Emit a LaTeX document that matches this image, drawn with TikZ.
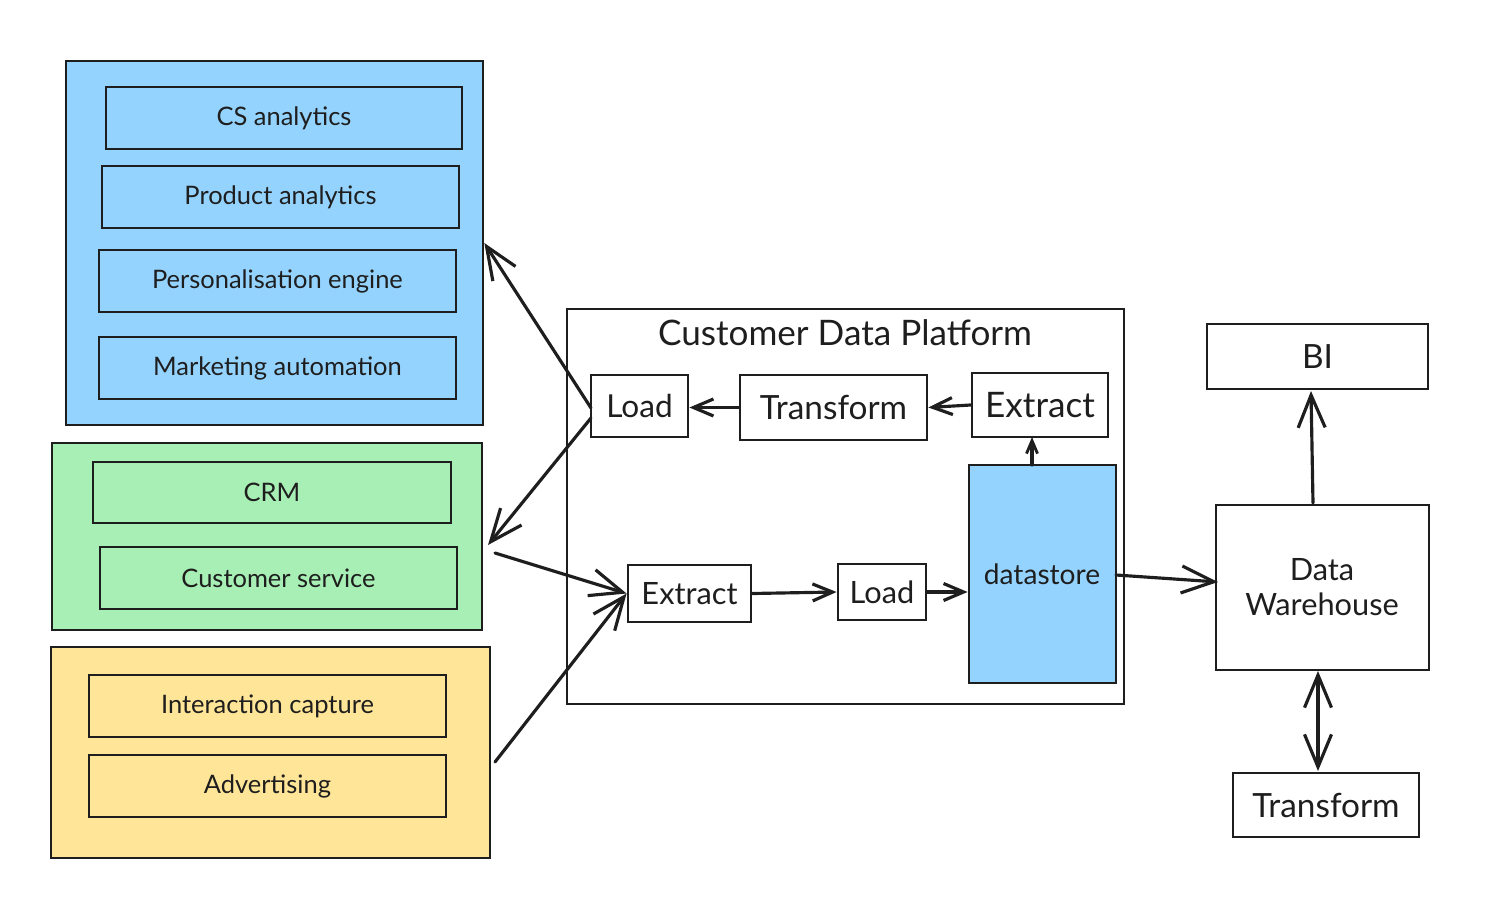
\documentclass[tikz,border=0pt]{standalone}
\usepackage{fontspec}
\setmainfont{Lato}
\usetikzlibrary{arrows.meta,fit,calc}
\definecolor{gblue}{HTML}{95D3FF}
\definecolor{ggreen}{HTML}{A7EFB4}
\definecolor{gyellow}{HTML}{FFE597}
\definecolor{ink}{HTML}{1E1E1E}
\tikzset{
  grp/.style={draw=ink, line width=1.5pt, inner sep=0pt},
  box/.style={draw=ink, line width=1.6pt, inner sep=0pt},
  small/.style={font=\fontsize{14.5}{17}\selectfont, text=ink},
  mid/.style={font=\fontsize{17.5}{20}\selectfont, text=ink},
  big/.style={font=\fontsize{19}{22}\selectfont, text=ink},
  arr/.style={draw=ink, line width=1.8pt, line cap=round, -{Straight Barb[length=6.5mm,width=5.4mm,line width=1.8pt]}},
  sarr/.style={draw=ink, line width=1.8pt, line cap=round, -{Straight Barb[length=4mm,width=3.4mm,line width=1.8pt]}},
  tarr/.style={draw=ink, line width=1.8pt, line cap=round, -{Straight Barb[length=2.6mm,width=2.2mm,line width=1.6pt]}},
  darr/.style={draw=ink, line width=1.8pt, line cap=round, {Straight Barb[length=6.5mm,width=5.4mm,line width=1.8pt]}-{Straight Barb[length=6.5mm,width=5.4mm,line width=1.8pt]}},
}
\begin{document}
\begin{tikzpicture}[x=0.02cm, y=-0.02cm]
\useasboundingbox (0,0) rectangle (1488,902);
% groups
\node[grp, fill=gblue, fit={(66,61) (483,425)}] (blue) {};
\node[grp, fill=ggreen, fit={(52,443) (482,630)}] (green) {};
\node[grp, fill=gyellow, fit={(51,647) (490,858)}] (yellow) {};
% blue items
\node[box, fill=gblue, fit={(106,87) (462,149)}, label={[small]center:CS analytics}] (csa) {};
\node[box, fill=gblue, fit={(102,166) (459,228)}, label={[small]center:Product analytics}] (pa) {};
\node[box, fill=gblue, fit={(99,250) (456,312)}, label={[small]center:Personalisation engine}] (pe) {};
\node[box, fill=gblue, fit={(99,337) (456,399)}, label={[small]center:Marketing automation}] (ma) {};
% green items
\node[box, fill=ggreen, fit={(93,462) (451,523)}, label={[small]center:CRM}] (crm) {};
\node[box, fill=ggreen, fit={(100,547) (457,609)}, label={[small]center:Customer service}] (cs) {};
% yellow items
\node[box, fill=gyellow, fit={(89,675) (446,737)}, label={[small]center:Interaction capture}] (ic) {};
\node[box, fill=gyellow, fit={(89,755) (446,817)}, label={[small]center:Advertising}] (adv) {};
% CDP
\node[box, fit={(567,309) (1124,704)}] (cdp) {};
\node[big, font=\fontsize{20}{24}\selectfont] (cdpt) at (845,333) {Customer Data Platform};
\node[box, fit={(591,375) (688,437)}, label={[big, font=\fontsize{18}{22}\selectfont]center:Load}] (load1) {};
\node[box, fit={(740,375) (927,440)}, label={[big]center:Transform}] (tr1) {};
\node[box, fit={(972,373) (1108,437)}, label={[big, font=\fontsize{20}{24}\selectfont]center:Extract}] (ex1) {};
\node[box, fill=gblue, fit={(969,465) (1116,683)}] (ds) {};
\node[mid, font=\fontsize{16}{20}\selectfont] (dst) at (1042,574) {datastore};
\node[box, fit={(628,565) (751,622)}, label={[mid]center:Extract}] (ex2) {};
\node[box, fit={(838,564) (926,620)}, label={[mid]center:Load}] (load2) {};
% right side
\node[box, fit={(1207,324) (1428,389)}, label={[big]center:BI}] (bi) {};
\node[box, fit={(1216,505) (1429,670)}] (dw) {};
\node[mid, align=center] (dwt) at (1322,587) {Data\\Warehouse};
\node[box, fit={(1233,773) (1419,837)}, label={[big]center:Transform}] (tr2) {};
% connectors
\coordinate (lA) at (591,408);
\coordinate (lB) at (591,418);
\coordinate (gA) at (488,545);
\coordinate (gB) at (495,553);
\coordinate (yA) at (495,762);
\coordinate (dsA) at (1032,465);
\coordinate (exA) at (1032,437);
\coordinate (dsB) at (1116,575);
\coordinate (dwB) at (1218,582);
\coordinate (dwT) at (1313,503);
\coordinate (biB) at (1311,391);
\coordinate (dwS) at (1318,671);
\coordinate (trN) at (1318,771);
\draw[arr] (lA) -- (blue.east);
\draw[arr] (lB) -- (gA);
\draw[arr] (gB) -- (ex2.west);
\draw[arr] (yA) -- (ex2.west);
\draw[sarr] (ex2.east) -- (load2.west);
\draw[sarr] (load2.east) -- (ds.west |- load2.east);
\draw[sarr] (tr1.west) -- (load1.east |- tr1.west);
\draw[sarr] (ex1.west) -- (tr1.east);
\draw[tarr] (dsA) -- (exA);
\draw[arr] (dsB) -- (dwB);
\draw[arr] (dwT) -- (biB);
\draw[darr] (trN) -- (dwS);
\end{tikzpicture}
\end{document}
